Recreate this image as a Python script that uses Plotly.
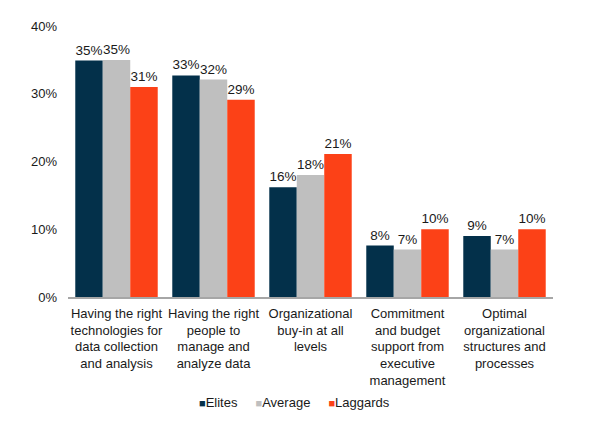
import plotly.graph_objects as go

categories = [
    "Having the right<br>technologies for<br>data collection<br>and analysis",
    "Having the right<br>people to<br>manage and<br>analyze data",
    "Organizational<br>buy-in at all<br>levels",
    "Commitment<br>and budget<br>support from<br>executive<br>management",
    "Optimal<br>organizational<br>structures and<br>processes",
]
elites = [34.9, 32.7, 16.2, 7.6, 9.0]
average = [35.0, 32.1, 18.0, 7.0, 7.0]
laggards = [31.0, 29.1, 21.1, 10.0, 10.0]
y_ticks = [0, 10, 20, 30, 40]
y_tick_labels = ["0%", "10%", "20%", "30%", "40%"]

series = [("Elites", elites, "#03304A"), ("Average", average, "#BFBFBF"), ("Laggards", laggards, "#FC4117")]

font = "Liberation Sans, Arial, sans-serif"
fig = go.Figure()
for name, vals, color in series:
    fig.add_trace(go.Bar(
        name=name, x=categories, y=vals, marker=dict(color=color, line=dict(width=0)),
        texttemplate="%{y:.0f}%", textposition="outside", constraintext="none",
        cliponaxis=False, textfont=dict(size=13.5, color="#1a1a1a", family=font),
        showlegend=False,
    ))

legend_text = "&nbsp;&nbsp;&nbsp;&nbsp;&nbsp;".join(
    f"<span style='color:{c};font-size:11px'>■</span>{n}" for n, _, c in series
)
fig.add_annotation(text=legend_text, xref="paper", yref="paper", x=0.468, y=-0.389,
                   xanchor="center", yanchor="middle", showarrow=False,
                   font=dict(size=13, color="#1a1a1a", family=font))

fig.update_layout(
    width=600, height=424,
    margin=dict(l=68, r=47, t=26, b=126.5),
    paper_bgcolor="white", plot_bgcolor="white",
    barmode="group", bargap=0.15, bargroupgap=0,
    font=dict(family=font, size=13, color="#1a1a1a"),
    xaxis=dict(showline=True, linecolor="#A6A6A6", linewidth=2, ticks="", showgrid=False,
               ticklabelstandoff=3, tickfont=dict(size=13, color="#1a1a1a")),
    yaxis=dict(range=[0, 40], tickvals=y_ticks, ticktext=y_tick_labels, showgrid=False,
               zeroline=False, showline=False, ticks="", ticklabelstandoff=10,
               tickfont=dict(size=13, color="#1a1a1a")),
)

fig.write_html("out.html")
